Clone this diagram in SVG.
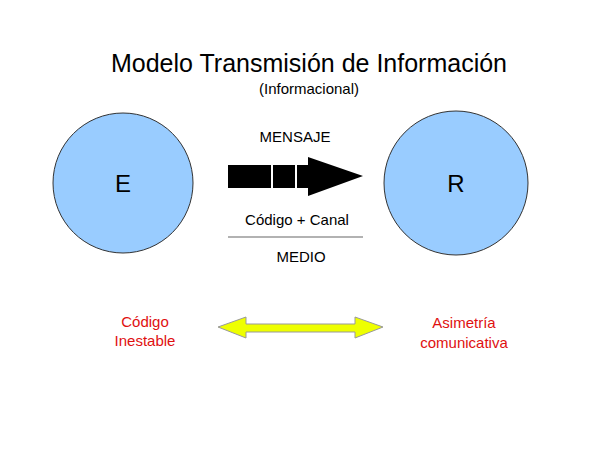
<svg xmlns="http://www.w3.org/2000/svg" width="600" height="450" viewBox="0 0 600 450">
<style>
text{font-family:"Liberation Sans",Arial,sans-serif;text-anchor:middle}
.c{fill:#99ccff;stroke:#333;stroke-width:1}
.red{fill:#e01010;font-size:15px}
</style>
<rect width="600" height="450" fill="#fff"/>
<text x="309" y="72" font-size="25">Modelo Transmisión de Información</text>
<text x="309" y="94" font-size="15">(Informacional)</text>
<g id="E"><circle class="c" cx="123" cy="183" r="70"/><text x="123" y="192" font-size="24">E</text></g>
<g id="R"><circle class="c" cx="456" cy="183" r="72"/><text x="456" y="192" font-size="24">R</text></g>
<g id="connectors">
<rect x="228" y="165" width="43" height="23" fill="#000"/>
<rect x="273" y="165" width="22" height="23" fill="#000"/>
<polygon points="297,165 308,165 308,157 363,176 308,196 308,188 297,188" fill="#000"/>
<line x1="228" y1="237" x2="363" y2="237" stroke="#999" stroke-width="1.5"/>
<polygon points="218,327 246,317 246,324 355,324 355,317 383,327 355,338 355,332 246,332 246,338" fill="#eeff00" stroke="#999" stroke-width="1"/>
</g>
<text x="295" y="142" font-size="15">MENSAJE</text>
<text x="297" y="225" font-size="15">Código + Canal</text>
<text x="301" y="262" font-size="15">MEDIO</text>
<text class="red" x="145" y="327">Código</text>
<text class="red" x="145" y="346">Inestable</text>
<text class="red" x="464" y="328">Asimetría</text>
<text class="red" x="464" y="348">comunicativa</text>
</svg>
